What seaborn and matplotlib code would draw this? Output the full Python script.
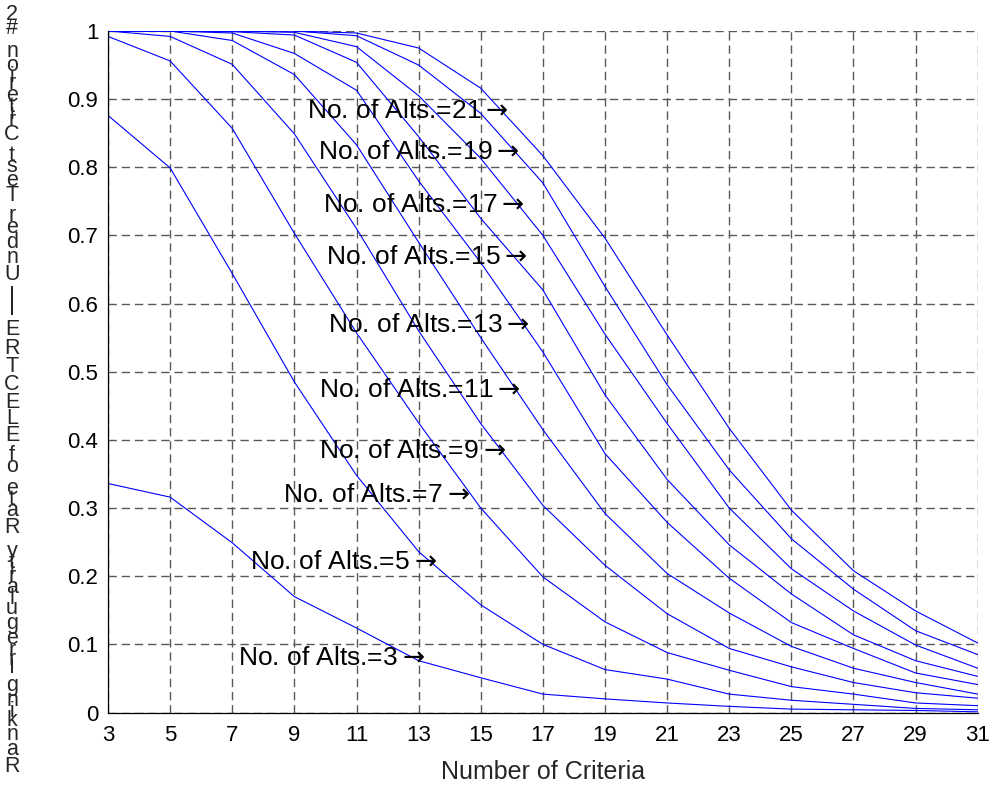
import numpy as np
import pandas as pd
import matplotlib
matplotlib.use("Agg")
import matplotlib.pyplot as plt
import seaborn as sns
from matplotlib import font_manager
from matplotlib.ft2font import FT2Font

# data
criteria = [3, 5, 7, 9, 11, 13, 15, 17, 19, 21, 23, 25, 27, 29, 31]
alts = [3, 5, 7, 9, 11, 13, 15, 17, 19, 21]

rate_3 = [0.336, 0.316, 0.249, 0.170, 0.124, 0.076, 0.051, 0.027, 0.020, 0.014, 0.009, 0.005, 0.004, 0.003, 0.001]
rate_5 = [0.876, 0.799, 0.644, 0.485, 0.348, 0.236, 0.158, 0.100, 0.063, 0.049, 0.027, 0.018, 0.012, 0.006, 0.004]
rate_7 = [0.992, 0.956, 0.857, 0.703, 0.557, 0.425, 0.300, 0.199, 0.133, 0.088, 0.062, 0.038, 0.027, 0.014, 0.010]
rate_9 = [1.000, 0.992, 0.951, 0.849, 0.710, 0.560, 0.424, 0.304, 0.216, 0.145, 0.094, 0.067, 0.044, 0.029, 0.021]
rate_11 = [1.000, 1.000, 0.986, 0.936, 0.833, 0.690, 0.550, 0.415, 0.292, 0.204, 0.146, 0.097, 0.065, 0.044, 0.027]
rate_13 = [1.000, 1.000, 0.997, 0.967, 0.913, 0.780, 0.660, 0.529, 0.380, 0.279, 0.197, 0.132, 0.094, 0.058, 0.041]
rate_15 = [1.000, 1.000, 0.999, 0.994, 0.954, 0.845, 0.725, 0.620, 0.466, 0.342, 0.246, 0.174, 0.114, 0.076, 0.053]
rate_17 = [1.000, 1.000, 1.000, 0.998, 0.977, 0.905, 0.813, 0.700, 0.555, 0.424, 0.300, 0.211, 0.149, 0.099, 0.065]
rate_19 = [1.000, 1.000, 1.000, 1.000, 0.993, 0.950, 0.879, 0.777, 0.625, 0.481, 0.356, 0.255, 0.181, 0.120, 0.085]
rate_21 = [1.000, 1.000, 1.000, 1.000, 0.997, 0.975, 0.916, 0.817, 0.696, 0.554, 0.417, 0.297, 0.208, 0.149, 0.102]

rates = [rate_3, rate_5, rate_7, rate_9, rate_11, rate_13, rate_15, rate_17, rate_19, rate_21]

# label anchor points (criteria, rate) for each curve label
label_x = [7.17, 7.56, 8.64, 9.80, 9.80, 10.07, 10.01, 9.93, 9.76, 9.41]
label_y = [0.080, 0.221, 0.319, 0.383, 0.473, 0.569, 0.669, 0.745, 0.823, 0.882]

xticks = list(range(3, 32, 2))
yticks = [0, 0.1, 0.2, 0.3, 0.4, 0.5, 0.6, 0.7, 0.8, 0.9, 1]
ytick_labels = ["0", "0.1", "0.2", "0.3", "0.4", "0.5", "0.6", "0.7", "0.8", "0.9", "1"]

ylabel = "Ranking Irregularity Rate of ELECTRE III Under Test Criterion #2"

df = pd.DataFrame({
    "criteria": criteria * len(alts),
    "rate": [v for r in rates for v in r],
    "alts": [a for a in alts for _ in criteria],
})

sns.set_style("white")
plt.rcParams["font.family"] = ["Liberation Sans", "DejaVu Sans"]
plt.rcParams["lines.scale_dashes"] = False
plt.rcParams["mathtext.fontset"] = "dejavusans"

fig = plt.figure(figsize=(9.93, 7.86), dpi=100)
ax = fig.add_axes([0.1088, 0.0935, 0.8758, 0.8671])

sns.lineplot(data=df, x="criteria", y="rate", hue="alts",
             palette=["#0000ff"] * len(alts), legend=False,
             linewidth=0.8, ax=ax)

for a, lx, ly in zip(alts, label_x, label_y):
    ax.text(lx, ly, "No. of Alts.=%d$\\rightarrow$" % a, fontsize=19,
            ha="left", va="center", color="black")

ax.set_xlim(3, 31)
ax.set_ylim(0, 1)
ax.set_xticks(xticks)
ax.set_yticks(yticks)
ax.set_yticklabels(ytick_labels)
ax.tick_params(direction="in", length=7, width=0.8, labelsize=16,
               colors="black")
ax.tick_params(axis="x", pad=9)
ax.tick_params(axis="y", pad=7)
ax.grid(True, color="0.35", linestyle=(0, (6, 3.5)), linewidth=1.0)
ax.set_axisbelow(True)
for s in ["top", "right"]:
    ax.spines[s].set_visible(False)
for s in ["left", "bottom"]:
    ax.spines[s].set_color("black")
    ax.spines[s].set_linewidth(0.9)

ax.set_xlabel("Number of Criteria", fontsize=18)
ax.set_ylabel("")
ax.xaxis.set_label_coords(0.5, -0.07)

# stacked y label, characters upright, read bottom to top
fp = font_manager.FontProperties(family="Liberation Sans")
font = FT2Font(font_manager.findfont(fp))
font.set_size(15, 100)
adv = np.array([font.load_char(ord(ch)).linearHoriAdvance for ch in ylabel], dtype=float)
centers = np.cumsum(adv) - adv / 2
t = (centers - centers[0]) / (centers[-1] - centers[0])
y_bot = 1 - 766.7 / 786
y_top = 1 - 14 / 786
for ch, tt in zip(ylabel, t):
    if ch == " ":
        continue
    fig.text(12 / 993, y_bot + tt * (y_top - y_bot), ch, fontsize=15.5,
             ha="center", va="center")

fig.savefig("out.png", dpi=100)
